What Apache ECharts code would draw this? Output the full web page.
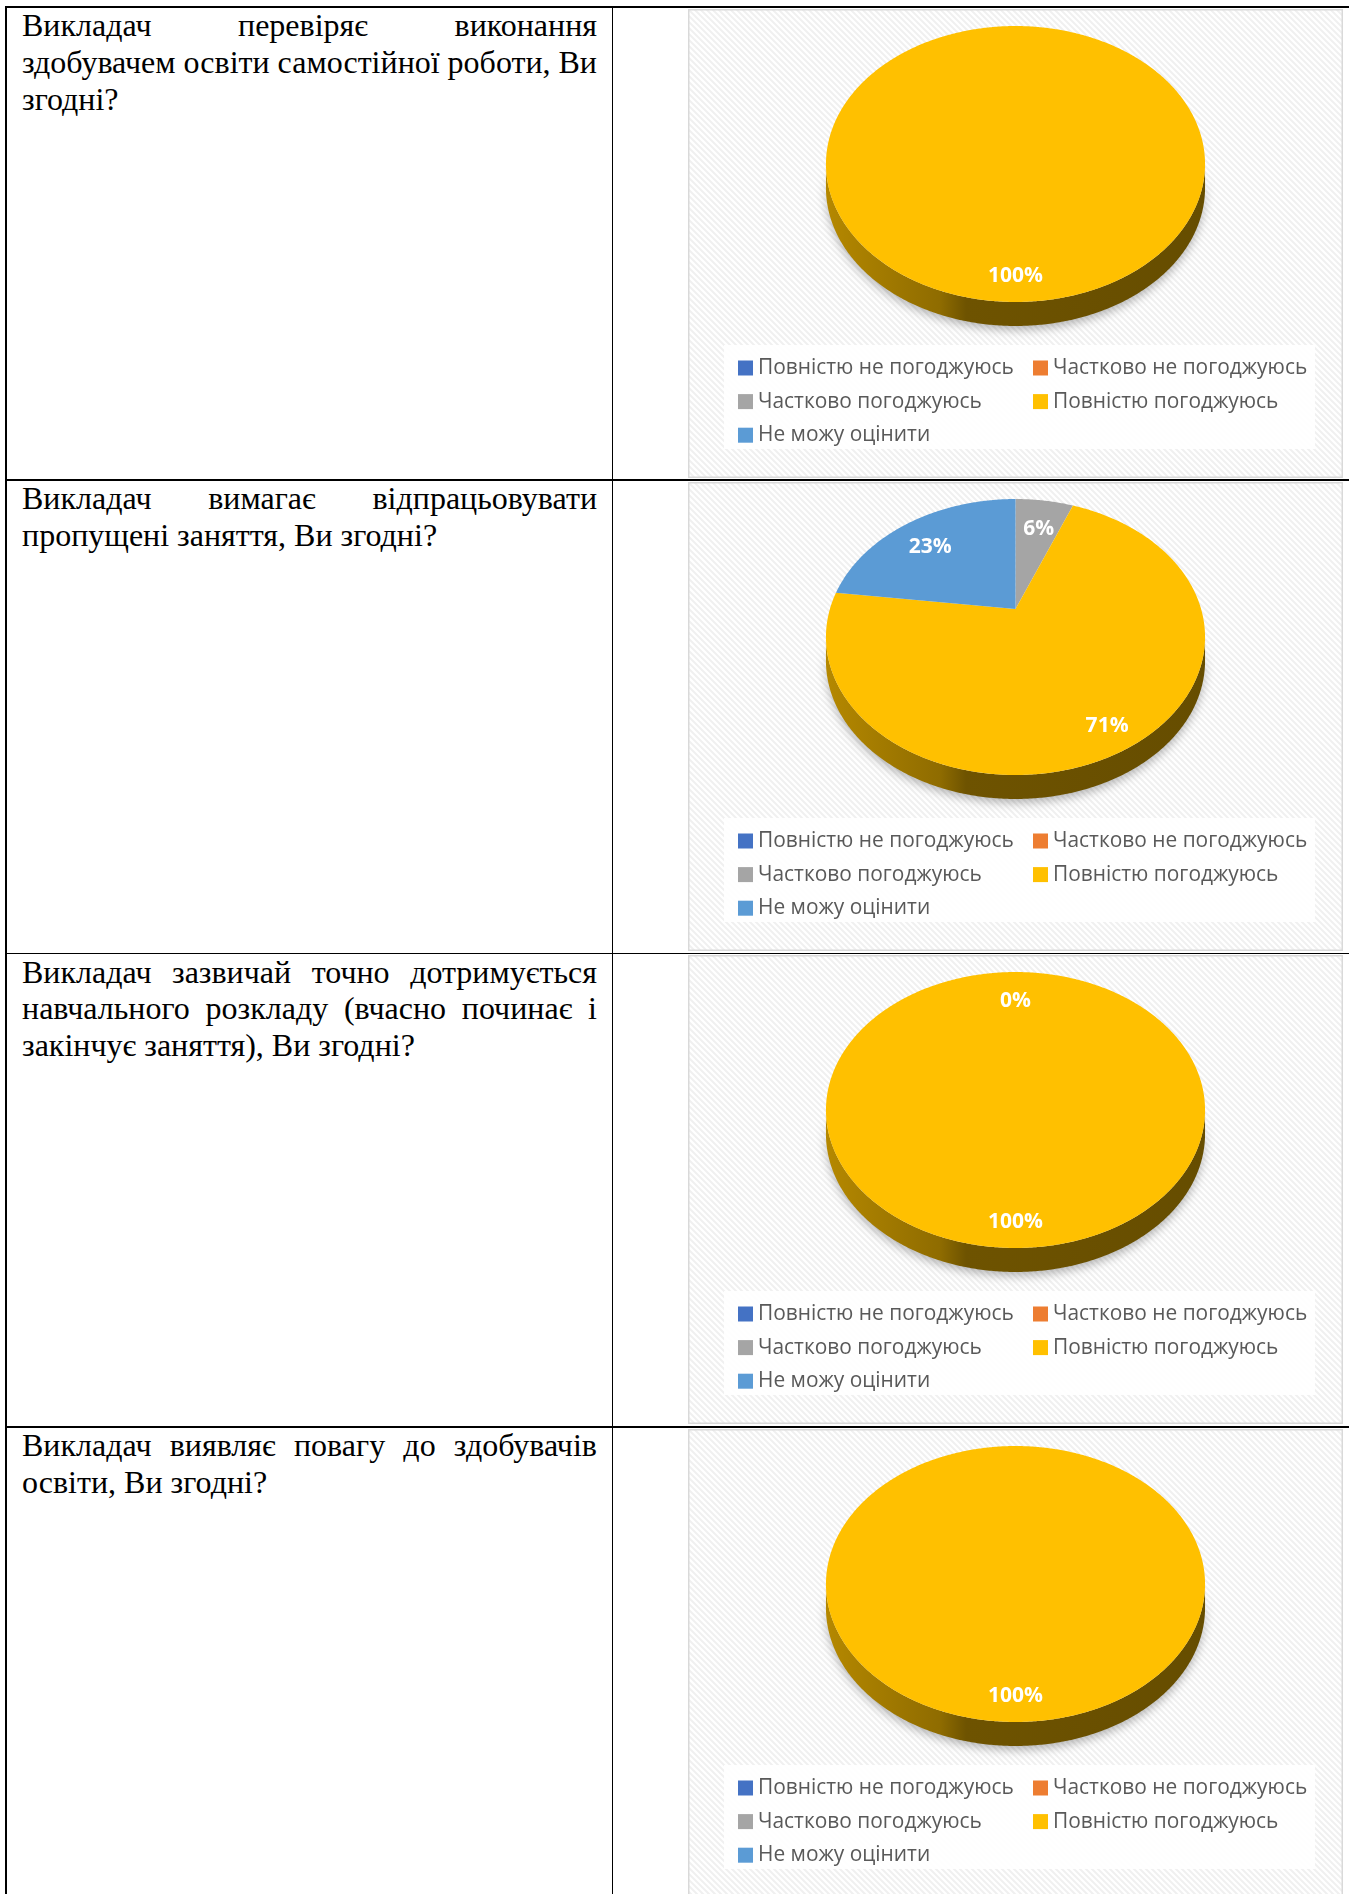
<!DOCTYPE html>
<html>
<head>
<meta charset="utf-8">
<script src="https://cdn.jsdelivr.net/npm/echarts@6/dist/echarts.min.js"></script>
<style>
  html, body { margin: 0; padding: 0; background: #fff; }
  body { width: 1349px; height: 1894px; position: relative; overflow: hidden; }
  .hl { position: absolute; left: 5px; width: 1344px; background: #000; }
  .vl { position: absolute; top: 6px; height: 1888px; background: #000; }
  .q { position: absolute; left: 22px; width: 575px; font-family: 'Liberation Serif', 'Times New Roman', serif;
       font-size: 32px; line-height: 36.8px; color: #000; }
  .q .ln { white-space: nowrap; }
  .q .jf { display: flex; justify-content: space-between; white-space: nowrap; }
  .chart { position: absolute; left: 688px; width: 655px; height: 469px; }
</style>
</head>
<body>
<div id="page"></div>
<script>
// Answer options, in legend order
const categories = [
  'Повністю не погоджуюсь',
  'Частково не погоджуюсь',
  'Частково погоджуюсь',
  'Повністю погоджуюсь',
  'Не можу оцінити'
];

// Question text, one entry per printed line
const question1 = ['Викладач перевіряє виконання', 'здобувачем освіти самостійної роботи, Ви', 'згодні?'];
const question2 = ['Викладач вимагає відпрацьовувати', 'пропущені заняття, Ви згодні?'];
const question3 = ['Викладач зазвичай точно дотримується', 'навчального розкладу (вчасно починає і', 'закінчує заняття), Ви згодні?'];
const question4 = ['Викладач виявляє повагу до здобувачів', 'освіти, Ви згодні?'];

// Share of answers, % (null = option not present in the data)
const shares1 = [null, null, null, 100, null];
const shares2 = [null, null, 6, 71, 23];
const shares3 = [null, null, 0, 100, null];
const shares4 = [null, null, null, 100, null];

const palette = ['#4472C4', '#ED7D31', '#A5A5A5', '#FFC000', '#5B9BD5'];

const questions = [question1, question2, question3, question4];
const sharesList = [shares1, shares2, shares3, shares4];

// ---- table frame ----
const rowTops = [6, 479, 952.5, 1426];
const page = document.getElementById('page');
function addDiv(cls, css) {
  const d = document.createElement('div');
  d.className = cls;
  Object.assign(d.style, css);
  page.appendChild(d);
  return d;
}
addDiv('hl', { top: '6px', height: '2px' });
rowTops.slice(1).forEach(y => addDiv('hl', { top: y + 'px', height: '1.5px' }));
addDiv('vl', { left: '5px', width: '2px' });
addDiv('vl', { left: '611.5px', width: '1.5px' });

// ---- question cells ----
questions.forEach((lines, i) => {
  const box = addDiv('q', { top: (rowTops[i] + 1) + 'px' });
  lines.forEach((line, li) => {
    const row = document.createElement('div');
    if (li < lines.length - 1) {
      row.className = 'jf';
      line.split(' ').forEach(w => {
        const s = document.createElement('span');
        s.textContent = w;
        row.appendChild(s);
      });
    } else {
      row.className = 'ln';
      row.textContent = line;
    }
    box.appendChild(row);
  });
});

// ---- tilted pie geometry (pixel units of the chart box) ----
const W = 655, H = 469;
const G = { cx: 327.5, vy: 127, rx: 185.6, ry: 132.3, k: 0.203, depth: 24 };
const TH_R = Math.acos(-G.k);               // right silhouette angle
const TH_L = 2 * Math.PI - Math.acos(-G.k); // left silhouette angle
const ECY = G.vy + G.ry * G.k / (1 - G.k * G.k); // centre of the outline

function proj(theta, t, drop) {
  const a = Math.sin(theta) * t, b = Math.cos(theta) * t;
  const w = 1 + G.k * b;
  return [G.cx + G.rx * a / w, G.vy - G.ry * b / w + drop];
}
function arc(a0, a1, drop) {
  const n = Math.max(2, Math.ceil(Math.abs(a1 - a0) / (Math.PI / 360)));
  const pts = [];
  for (let i = 0; i <= n; i++) pts.push(proj(a0 + (a1 - a0) * i / n, 1, drop));
  return pts;
}
function shade(hex, f) {
  const n = parseInt(hex.slice(1), 16);
  const r = Math.round(((n >> 16) & 255) * f), g = Math.round(((n >> 8) & 255) * f), b = Math.round((n & 255) * f);
  return 'rgb(' + r + ',' + g + ',' + b + ')';
}

function renderSlice(params, api) {
  const a0 = api.value(0) * Math.PI / 180;
  const a1 = api.value(1) * Math.PI / 180;
  const v = api.value(2);
  const color = api.visual('color');
  const children = [];

  // outer wall, only where it faces the viewer
  const s = Math.max(a0, TH_R), e = Math.min(a1, TH_L);
  if (e > s) {
    const pts = arc(s, e, 0).concat(arc(e, s, G.depth)).map(p => api.coord(p));
    const xl = api.coord([G.cx - G.rx / Math.sqrt(1 - G.k * G.k), 0])[0];
    const xr = api.coord([G.cx + G.rx / Math.sqrt(1 - G.k * G.k), 0])[0];
    children.push({
      type: 'polygon', z2: 1,
      shape: { points: pts },
      style: {
        fill: new echarts.graphic.LinearGradient(xl, 0, xr, 0, [
          { offset: 0, color: shade(color, 0.71) },
          { offset: 0.3, color: shade(color, 0.56) },
          { offset: 0.37, color: shade(color, 0.43) },
          { offset: 1, color: shade(color, 0.40) }
        ], true),
        shadowBlur: 10, shadowOffsetY: 4, shadowColor: 'rgba(0,0,0,0.28)'
      }
    });
  }

  // top face
  if (a1 > a0) {
    const pts = [api.coord(proj(0, 0, 0))].concat(arc(a0, a1, 0).map(p => api.coord(p)));
    children.push({ type: 'polygon', z2: 5, shape: { points: pts }, style: { fill: color } });
  }

  // percentage label
  const mid = (a0 + a1) / 2;
  const rimPt = proj(mid, 1, 0);
  const lp = api.coord([G.cx + 0.8 * (rimPt[0] - G.cx), ECY + 0.8 * (rimPt[1] - ECY) + 1.5]);
  children.push({
    type: 'text', z2: 10, x: lp[0], y: lp[1],
    style: {
      text: Math.round(v) + '%', fill: '#ffffff',
      font: 'bold 21px "Open Sans", sans-serif',
      align: 'center', verticalAlign: 'middle'
    }
  });
  return { type: 'group', children };
}

function hatchCanvas() {
  const c = document.createElement('canvas');
  c.width = 6; c.height = 6;
  const g = c.getContext('2d');
  g.fillStyle = '#ffffff'; g.fillRect(0, 0, 6, 6);
  g.strokeStyle = '#f0f0f0'; g.lineWidth = 2;
  g.beginPath();
  g.moveTo(-1, -1); g.lineTo(7, 7);
  g.moveTo(-1, 5); g.lineTo(1, 7);
  g.moveTo(5, -1); g.lineTo(7, 1);
  g.stroke();
  return c;
}
const hatch = hatchCanvas();

function buildOption(shares) {
  const total = shares.reduce((s, v) => s + (v || 0), 0);
  let acc = 0;
  const series = categories.map((name, j) => {
    const v = shares[j];
    const data = [];
    if (v !== null) {
      data.push([acc / total * 360, (acc + v) / total * 360, v]);
      acc += v;
    }
    return {
      type: 'custom', name, coordinateSystem: 'cartesian2d', clip: false, silent: true,
      itemStyle: { color: palette[j] },
      renderItem: renderSlice, data
    };
  });
  const legendText = { color: '#595959', fontFamily: 'Open Sans', fontSize: 20.9 };
  const legendBase = {
    orient: 'vertical', top: 348.5, itemWidth: 15, itemHeight: 15, itemGap: 12.6,
    icon: 'rect', padding: 0, selectedMode: false, textStyle: legendText
  };
  return {
    animation: false,
    grid: { left: 0, right: 0, top: 0, bottom: 0 },
    xAxis: { type: 'value', min: 0, max: W, show: false },
    yAxis: { type: 'value', min: 0, max: H, inverse: true, show: false },
    graphic: [
      { type: 'rect', z: -10, shape: { x: 0.75, y: 0.75, width: W - 1.5, height: H - 1.5 },
        style: { fill: { image: hatch, repeat: 'repeat' }, stroke: '#d9d9d9', lineWidth: 1.5 } },
      { type: 'rect', z: -9, shape: { x: 36, y: 336, width: 591, height: 104 },
        style: { fill: 'rgba(255,255,255,0.88)' } }
    ],
    legend: [
      Object.assign({ left: 50, data: [categories[0], categories[2], categories[4]] }, legendBase),
      Object.assign({ left: 345, data: [categories[1], categories[3]] }, legendBase)
    ],
    series
  };
}

sharesList.forEach((shares, i) => {
  const el = addDiv('chart', { top: (rowTops[i] + 2.5) + 'px' });
  const chart = echarts.init(el, null, { renderer: 'canvas' });
  chart.setOption(buildOption(shares));
});
</script>
</body>
</html>
